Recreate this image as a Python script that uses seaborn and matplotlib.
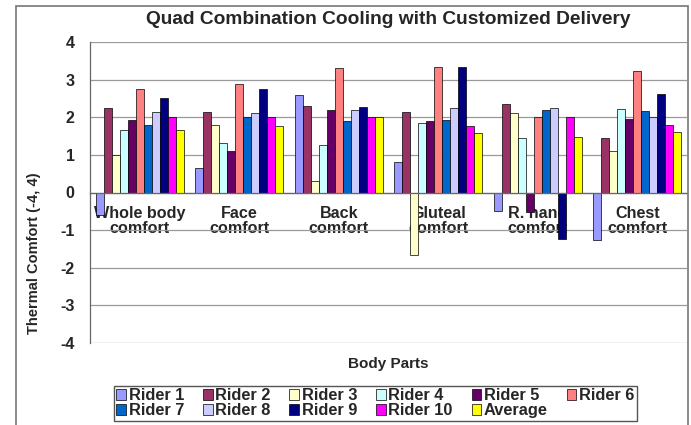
import pandas as pd
import numpy as np
import seaborn as sns
import matplotlib.pyplot as plt
from matplotlib.patches import Rectangle
from matplotlib.ticker import MultipleLocator

# data
parts = ['Whole body\ncomfort', 'Face\ncomfort', 'Back\ncomfort',
         'Gluteal\ncomfort', 'R. hand\ncomfort', 'Chest\ncomfort']
riders = ['Rider 1', 'Rider 2', 'Rider 3', 'Rider 4', 'Rider 5', 'Rider 6',
          'Rider 7', 'Rider 8', 'Rider 9', 'Rider 10', 'Average']
rider1 = [-0.6, 0.65, 2.58, 0.8, -0.5, -1.26]
rider2 = [2.24, 2.15, 2.3, 2.13, 2.35, 1.46]
rider3 = [1.0, 1.79, 0.31, -1.67, 2.1, 1.1]
rider4 = [1.66, 1.31, 1.26, 1.84, 1.46, 2.21]
rider5 = [1.93, 1.09, 2.19, 1.9, -0.53, 1.96]
rider6 = [2.74, 2.88, 3.3, 3.34, 2.0, 3.23]
rider7 = [1.8, 2.0, 1.89, 1.93, 2.18, 2.16]
rider8 = [2.15, 2.1, 2.19, 2.24, 2.24, 2.0]
rider9 = [2.5, 2.74, 2.28, 3.34, -1.24, 2.63]
rider10 = [2.0, 2.0, 2.0, 1.78, 2.0, 1.8]
average = [1.66, 1.77, 2.0, 1.59, 1.48, 1.62]
colors = ['#9999FF', '#993366', '#FFFFCC', '#CCFFFF', '#660066', '#FF8080',
          '#0066CC', '#CCCCFF', '#000080', '#FF00FF', '#FFFF00']

series = [rider1, rider2, rider3, rider4, rider5, rider6,
          rider7, rider8, rider9, rider10, average]
rows = []
for r, vals in zip(riders, series):
    for p, v in zip(parts, vals):
        rows.append({'part': p, 'rider': r, 'value': v})
df = pd.DataFrame(rows)

sns.set_theme(style='white')
plt.rcParams['font.family'] = ['Liberation Sans', 'DejaVu Sans']
plt.rcParams['font.weight'] = 'bold'
plt.rcParams['axes.unicode_minus'] = False

fig = plt.figure(figsize=(6.91, 4.25), dpi=100)
ax = fig.add_axes([90/691, 1-343/425, 597/691, 301/425])

sns.barplot(data=df, x='part', y='value', hue='rider', order=parts, hue_order=riders,
            palette=dict(zip(riders, colors)), saturation=1, width=0.88, gap=0,
            edgecolor='black', linewidth=0.5, ax=ax)

ax.set_ylim(-4, 4)
ax.set_xlim(-0.5, 5.5)
ax.yaxis.set_major_locator(MultipleLocator(1))
ax.yaxis.grid(True, color='#9a9a9a', lw=0.9)
ax.set_axisbelow(True)

for s in ['top', 'right']:
    ax.spines[s].set_visible(False)
ax.spines['bottom'].set_position(('data', 0))
ax.spines['bottom'].set_color('#666666')
ax.spines['left'].set_color('#666666')
ax.spines['bottom'].set_linewidth(0.9)
ax.spines['left'].set_linewidth(0.9)

ax.set_xticks(range(len(parts)))
ax.set_xticklabels(parts, fontsize=11.6, fontweight='bold', linespacing=1.0)
ax.set_xticks(np.arange(-0.5, 6, 1), minor=True)
ax.tick_params(axis='x', which='major', length=0, pad=10)
ax.tick_params(axis='x', which='minor', length=4, width=0.8, color='#666666', direction='out')
ax.tick_params(axis='y', length=4, width=0.8, color='#666666', direction='out',
               labelsize=11.5, pad=7)
for t in ax.get_yticklabels():
    t.set_fontweight('bold')

ax.set_ylabel('Thermal Comfort (-4, 4)', fontsize=10.5, fontweight='bold')
ax.yaxis.set_label_coords(-0.082, 0.30)
ax.set_xlabel('Body Parts', fontsize=11, fontweight='bold')
ax.xaxis.set_label_coords(0.5, -0.045)
ax.set_title('Quad Combination Cooling with Customized Delivery',
             fontsize=13.8, fontweight='bold', pad=13)

handles, labels = ax.get_legend_handles_labels()
order = [0, 6, 1, 7, 2, 8, 3, 9, 4, 10, 5]
ax.legend([handles[i] for i in order], [labels[i] for i in order], ncol=6,
          loc='upper left', bbox_to_anchor=(114/691, 1-386/425),
          bbox_transform=fig.transFigure, frameon=True,
          fancybox=False, edgecolor='#555555', framealpha=1,
          handlelength=0.6, handleheight=0.6, handletextpad=0.15,
          columnspacing=1.15, labelspacing=0.0, borderpad=0.15, borderaxespad=0,
          prop={'weight': 'bold', 'size': 11.8})

fig.patches.append(Rectangle((16/691, -0.05), 672/691, 1.05-6/425, transform=fig.transFigure,
                             fill=False, edgecolor='#777777', lw=1.2))

fig.savefig('out.png', dpi=100)
